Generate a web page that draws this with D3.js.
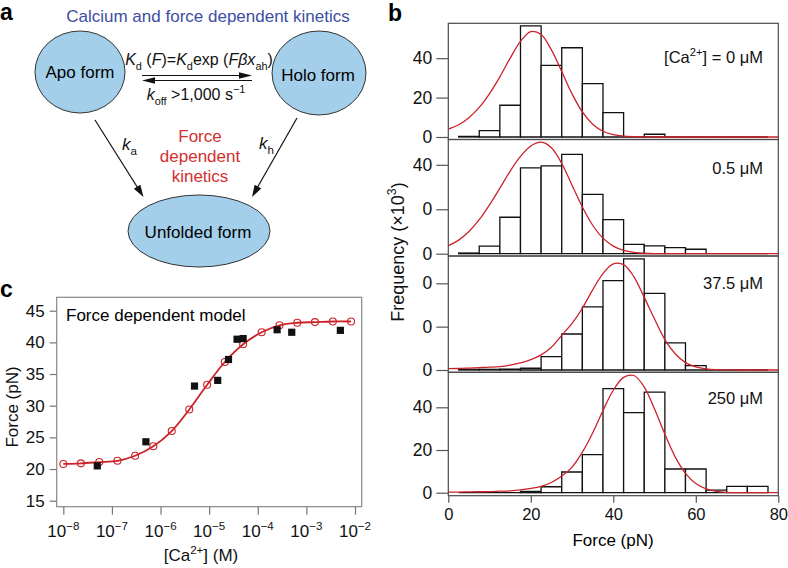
<!DOCTYPE html>
<html><head><meta charset="utf-8">
<script src="https://cdn.jsdelivr.net/npm/d3@7"></script>
<style>
body{margin:0;background:#fff}
svg{display:block}
text{font-family:"Liberation Sans",Arial,Helvetica,sans-serif}
</style>
</head><body>
<svg id="chart"></svg>
<script>
// ---------------- DATA ----------------
// Panel b: histogram bin centres (pN, bin width 5) and counts (x10^3)
const binCenters = [5,10,15,20,25,30,35,40,45,50,55,60,65,70,75];
const counts0uM   = [0.3,3.2,16.1,56.4,36.3,45.3,27.1,12.4,0,1.4,0,0,0,0,0];
const counts05uM  = [0.3,3.4,16.4,38.6,39.5,44.7,26.7,15.3,4.2,3.5,2.7,2.0,0,0,0];
const counts375uM = [0.3,0.3,0.4,0.8,6.2,16.6,29.1,41.2,51.3,35.4,12.5,2.0,0,0,0];
const counts250uM = [0,0,0,0.6,2.8,9.7,17.8,48.8,37.5,47.1,11.1,11.1,1.2,3.0,3.0];
// Panel b: fitted curves at these forces
const fitForce  = [0,2.5,5,7.5,10,12.5,15,17.5,20,22.5,25,27.5,30,32.5,35,37.5,40,42.5,45,47.5,50,52.5,55,57.5,60,62.5,65,67.5,70,75,80];
const fit0uM    = [4.0,6.2,9.8,15,22,30.5,40,48.5,53.5,52,44.2,33.2,21.9,12.7,6.5,2.9,1.2,0.4,0.12,0.03,0,0,0,0,0,0,0,0,0,0,0];
const fit05uM   = [3.6,6.1,10,15.3,22,29.5,37.2,43.8,48.5,50.2,47.7,40.6,30.8,21,12.8,7,3.4,1.5,0.6,0.2,0.05,0,0,0,0,0,0,0,0,0,0];
const fit375uM  = [0.6,0.7,0.9,1.1,1.3,1.6,2.3,3.3,4.8,7,10.5,16,21.5,28.5,37,44.5,49,48.6,43,33.5,23.5,14,7.5,3.4,1.4,0.5,0.15,0.04,0,0,0];
const fit250uM  = [0.3,0.3,0.4,0.45,0.5,0.7,0.9,1.3,2,3,4.8,7.8,12,19,28,38.5,48,54,54.9,49.5,39.2,27.4,16.8,9.1,4.3,1.8,0.67,0.2,0.05,0,0];
const freqTicks  = [0,20,40];
const forceTicks = [0,20,40,60,80];
const concLabels = ["0 μM","0.5 μM","37.5 μM","250 μM"];

// Panel c: experiment (squares) and model (circles)
const expConc   = [5e-8,5e-7,5e-6,1.5e-5,2.5e-5,3.75e-5,5e-5,2.5e-4,5e-4,5e-3];
const expForce  = [20.5,24.3,33.1,34.0,37.3,40.5,40.6,42.0,41.6,41.9];
const modelConc = [1.0e-8,2.3e-8,5.5e-8,1.3e-7,3.0e-7,7.1e-7,1.7e-6,3.9e-6,9.1e-6,2.1e-5,5.0e-5,1.2e-4,2.8e-4,6.5e-4,1.5e-3,3.5e-3,8.3e-3];
const modelForce= [20.8,20.9,21.1,21.3,22.1,23.6,26.0,29.4,33.3,36.9,39.7,41.6,42.7,43.1,43.2,43.3,43.3];
const forceAxisTicks = [15,20,25,30,35,40,45];
const concDecades = [-8,-7,-6,-5,-4,-3,-2];

// ---------------- DRAWING ----------------
const W=788,H=568;
const RED="#cc2229";
const svg=d3.select("#chart").attr("width",W).attr("height",H);
svg.append("rect").attr("width",W).attr("height",H).attr("fill","#fff");

function rich(g,x,y,size,parts,anchor,fill){
  const t=g.append("text").attr("x",x).attr("y",y).attr("font-size",size)
    .attr("text-anchor",anchor||"middle").attr("fill",fill||"#111");
  let cur=0;
  parts.forEach(p=>{
    const target=p.sub?size*0.32:(p.sup?-size*0.42:0);
    const ts=t.append("tspan").attr("dy",target-cur).text(p.t);
    cur=target;
    if(p.sub||p.sup) ts.attr("font-size",size*0.68);
    if(p.i) ts.attr("font-style","italic");
  });
  return t;
}
function arrow(g,x1,y1,x2,y2,len,w){
  const a=Math.atan2(y2-y1,x2-x1);
  const bx=x2-len*Math.cos(a), by=y2-len*Math.sin(a);
  g.append("line").attr("x1",x1).attr("y1",y1).attr("x2",bx+2*Math.cos(a)).attr("y2",by+2*Math.sin(a))
    .attr("stroke","#111").attr("stroke-width",1.2);
  const px=-Math.sin(a)*w, py=Math.cos(a)*w;
  g.append("path").attr("d",`M${x2},${y2}L${bx+px},${by+py}L${bx-px},${by-py}Z`).attr("fill","#111");
}

// panel letters
[["a",0,20],["b",388,21],["c",0,297]].forEach(([t,x,y])=>
  svg.append("text").attr("x",x).attr("y",y).attr("font-size",23).attr("font-weight","bold").text(t));

// ---------- panel a ----------
const gA=svg.append("g");
gA.append("text").attr("x",208).attr("y",21.5).attr("text-anchor","middle").attr("font-size",17)
  .attr("fill","#3c4ea3").text("Calcium and force dependent kinetics");
const stateFill="#a3cfea";
[{cx:80,cy:72,rx:45,ry:41,label:"Apo form",tx:80,ty:78},
 {cx:319,cy:73,rx:47,ry:42,label:"Holo form",tx:318,ty:80.5},
 {cx:199,cy:231,rx:71,ry:36,label:"Unfolded form",tx:198,ty:237.5}].forEach(s=>{
  gA.append("ellipse").attr("cx",s.cx).attr("cy",s.cy).attr("rx",s.rx).attr("ry",s.ry)
    .attr("fill",stateFill).attr("stroke","#333").attr("stroke-width",1);
  gA.append("text").attr("x",s.tx).attr("y",s.ty).attr("text-anchor","middle").attr("font-size",17).text(s.label);
});
rich(gA,199,65,16,[{t:"K",i:1},{t:"d",sub:1},{t:" ("},{t:"F",i:1},{t:")=",},{t:"K",i:1},{t:"d",sub:1},{t:"exp ("},{t:"Fβx",i:1},{t:"ah",sub:1},{t:")"}]);
arrow(gA,142,75.5,252,75.5,13,3.2);
arrow(gA,252,80.5,142,80.5,13,3.2);
rich(gA,196,100,16,[{t:"k",i:1},{t:"off",sub:1},{t:" >1,000 s"},{t:"−1",sup:1}]);
arrow(gA,95,120,143.5,197,12,3.8);
arrow(gA,297,118,252,197,12,3.8);
rich(gA,122,150,17,[{t:"k",i:1},{t:"a",sub:1}],"start");
rich(gA,259,149,17,[{t:"k",i:1},{t:"h",sub:1}],"start");
["Force","dependent","kinetics"].forEach((t,i)=>
  gA.append("text").attr("x",200).attr("y",141.5+i*20).attr("text-anchor","middle").attr("font-size",17).attr("fill","#d2302f").text(t));

// ---------- panel b ----------
const xF=d3.scaleLinear().domain([0,80]).range([448.3,778.3]);
const panels=[
  {counts:counts0uM,  fit:fit0uM,  top:23.3, bottom:139.5, ymin:-1.27, ymax:57.7, ly:63.3,
   label:[{t:"[Ca"},{t:"2+",sup:1},{t:"] = "+concLabels[0]}]},
  {counts:counts05uM, fit:fit05uM, top:139.5,bottom:256,   ymin:-1.04, ymax:51.4, ly:174.3, label:[{t:concLabels[1]}]},
  {counts:counts375uM,fit:fit375uM,top:256,  bottom:372.3, ymin:-1.06, ymax:52.6, ly:289.3, label:[{t:concLabels[2]}]},
  {counts:counts250uM,fit:fit250uM,top:372.3,bottom:495.7, ymin:-1.4,  ymax:56.4, ly:404,   label:[{t:concLabels[3]}]}
];
panels.forEach((p,pi)=>{
  const y=d3.scaleLinear().domain([p.ymin,p.ymax]).range([p.bottom,p.top]);
  const g=svg.append("g");
  const cid="clipb"+pi;
  svg.append("clipPath").attr("id",cid).append("rect").attr("x",xF(0)).attr("y",p.top)
    .attr("width",xF(80)-xF(0)).attr("height",p.bottom-p.top);
  g.selectAll("path.bar").data(binCenters.map((c,i)=>({c,v:p.counts[i]}))).join("path")
    .attr("class","bar")
    .attr("d",d=>{const x0=xF(d.c-2.5),x1=xF(d.c+2.5),y0=y(0),y1=y(d.v);return `M${x0},${y0}V${y1}H${x1}V${y0}Z`;})
    .attr("fill","#fff").attr("stroke","#111").attr("stroke-width",1.3);
  const line=d3.line().x((d,i)=>xF(fitForce[i])).y(d=>y(d)).curve(d3.curveCatmullRom);
  g.append("path").attr("d",line(p.fit)).attr("fill","none").attr("stroke",RED).attr("stroke-width",1.3)
    .attr("clip-path",`url(#${cid})`);
  g.append("rect").attr("x",xF(0)).attr("y",p.top).attr("width",xF(80)-xF(0)).attr("height",p.bottom-p.top)
    .attr("fill","none").attr("stroke","#4a4a4a").attr("stroke-width",1.2);
  const ax=g.append("g").attr("transform",`translate(${xF(0)},0)`)
    .call(d3.axisLeft(y).tickValues(freqTicks).tickSize(12).tickPadding(4));
  ax.select(".domain").remove();
  ax.selectAll("line").attr("stroke","#555").attr("stroke-width",1.2);
  ax.selectAll("text").attr("font-size",17.5).attr("fill","#111").attr("font-family",'"Liberation Sans",Arial,sans-serif');
  rich(g,763,p.ly,16.5,p.label,"end");
});
// frequency title with white backing (hides the tens digits behind it)
svg.append("rect").attr("x",398).attr("y",180).attr("width",24).attr("height",214).attr("fill","#fff");
rich(svg.append("g").attr("transform","translate(404,252) rotate(-90)"),0,0,18,
  [{t:"Frequency (×10"},{t:"3",sup:1},{t:")"}]);
// x axis
const xa=svg.append("g").attr("transform",`translate(0,${panels[3].bottom})`)
  .call(d3.axisBottom(xF).tickValues(forceTicks).tickSize(7).tickPadding(6));
xa.select(".domain").remove();
xa.selectAll("line").attr("stroke","#555").attr("stroke-width",1.2);
xa.selectAll("text").attr("font-size",16.5).attr("fill","#111").attr("font-family",'"Liberation Sans",Arial,sans-serif');
svg.append("text").attr("x",613).attr("y",545.5).attr("text-anchor","middle").attr("font-size",17).text("Force (pN)");

// ---------- panel c ----------
const xC=d3.scaleLog().domain([Math.pow(10,-8.136),Math.pow(10,-1.862)]).range([56.7,361.7]);
const yC=d3.scaleLinear().domain([14.05,47.12]).range([506.7,297.3]);
const gC=svg.append("g");
gC.append("rect").attr("x",56.7).attr("y",297.3).attr("width",305).attr("height",209.4)
  .attr("fill","none").attr("stroke","#888").attr("stroke-width",1.2);
const ya=gC.append("g").attr("transform","translate(56.7,0)")
  .call(d3.axisLeft(yC).tickValues(forceAxisTicks).tickSize(7).tickPadding(5));
ya.select(".domain").remove();
ya.selectAll("line").attr("stroke","#777").attr("stroke-width",1.2);
ya.selectAll("text").attr("font-size",17).attr("fill","#111").attr("font-family",'"Liberation Sans",Arial,sans-serif');
const xaC=gC.append("g").attr("transform","translate(0,506.7)")
  .call(d3.axisBottom(xC).tickValues(concDecades.map(d=>Math.pow(10,d))).tickSize(8).tickFormat(""));
xaC.select(".domain").remove();
xaC.selectAll("line").attr("stroke","#777").attr("stroke-width",1.2);
concDecades.forEach(d=>rich(gC,xC(Math.pow(10,d)),537,17,[{t:"10"},{t:"−"+Math.abs(d),sup:1}]));
const mline=d3.line().x((d,i)=>xC(modelConc[i])).y(d=>yC(d)).curve(d3.curveCatmullRom);
gC.append("path").attr("d",mline(modelForce)).attr("fill","none").attr("stroke",RED).attr("stroke-width",1.8);
gC.selectAll("circle.m").data(modelForce).join("circle").attr("class","m")
  .attr("cx",(d,i)=>xC(modelConc[i])).attr("cy",d=>yC(d)).attr("r",3.5)
  .attr("fill","none").attr("stroke",RED).attr("stroke-width",1.1);
gC.selectAll("rect.e").data(expForce).join("rect").attr("class","e")
  .attr("x",(d,i)=>xC(expConc[i])-3.6).attr("y",d=>yC(d)-3.6).attr("width",7.2).attr("height",7.2).attr("fill","#111");
gC.append("text").attr("x",66).attr("y",321).attr("font-size",17).text("Force dependent model");
rich(gC.append("g").attr("transform","translate(18,407) rotate(-90)"),0,0,17,[{t:"Force (pN)"}]);
rich(gC,201,561,17,[{t:"[Ca"},{t:"2+",sup:1},{t:"] (M)"}]);
</script>
</body></html>
